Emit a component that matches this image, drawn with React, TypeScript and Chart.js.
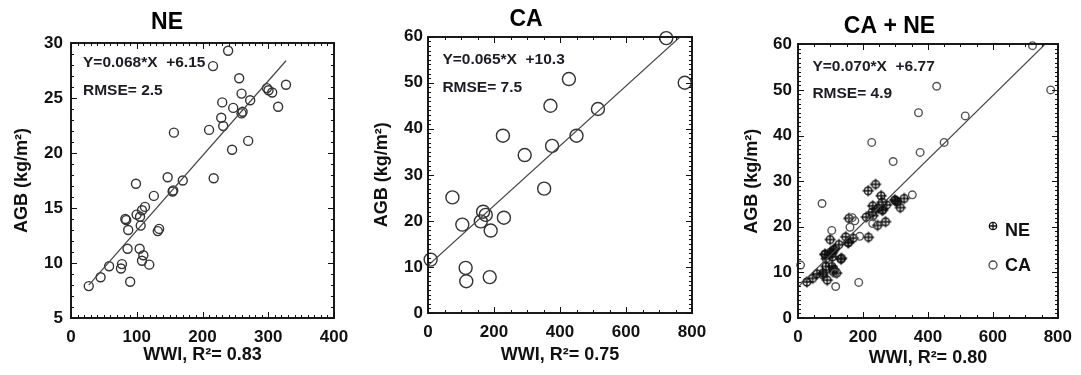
import React, { useEffect, useRef, useState } from 'react';
import { Chart, registerables } from 'chart.js';

Chart.register(...registerables);

// ---------------- data ----------------
const NE_WWI = [27, 45, 58, 77.5, 76, 90, 82.6, 84, 86, 87, 98.8, 99.8, 105, 104.4, 106, 110, 108, 108, 112.5, 119, 126, 132, 134, 147, 155.5, 154.5, 156.5, 170, 210, 217, 216, 239, 230, 228.5, 231.5, 245, 246.7, 255.8, 259.4, 259.4, 261, 269.5, 272.5, 298, 300.4, 306, 315, 327];
const NE_AGB = [7.9, 8.7, 9.7, 9.9, 9.5, 8.3, 14.0, 13.9, 11.3, 13.0, 17.2, 14.4, 14.2, 11.3, 13.4, 10.7, 10.2, 14.8, 15.1, 9.85, 16.1, 12.9, 13.1, 17.8, 16.6, 16.5, 21.85, 17.5, 22.1, 17.7, 27.9, 29.3, 24.6, 23.2, 22.45, 20.3, 24.1, 26.8, 25.4, 23.6, 23.75, 21.1, 24.8, 25.9, 25.7, 25.5, 24.2, 26.2];

const CA_WWI = [8, 74, 104, 114, 116, 160, 167, 175, 190, 187, 230, 227, 293, 352, 371, 376, 427, 450, 515, 722, 778];
const CA_AGB = [11.6, 25.1, 19.2, 9.8, 6.9, 19.9, 22.0, 21.3, 17.9, 7.8, 20.7, 38.5, 34.3, 27.0, 45.0, 36.3, 50.8, 38.5, 44.3, 59.7, 50.0];

// fit results: [slope, intercept, RMSE, R2]
const NE_FIT = [0.068, 6.15, 2.5, 0.83];
const CA_FIT = [0.065, 10.3, 7.5, 0.75];
const ALL_FIT = [0.070, 6.77, 4.9, 0.80];

// tick labels
const X_TICKS_NE = [0, 100, 200, 300, 400];
const Y_TICKS_NE = [5, 10, 15, 20, 25, 30];
const X_TICKS_CA = [0, 200, 400, 600, 800];
const Y_TICKS_CA = [0, 10, 20, 30, 40, 50, 60];

const TITLES = ['NE', 'CA', 'CA + NE'];
const LEGEND_LABELS = ['NE', 'CA'];

// ---------------- helpers ----------------
const FONT = "'Liberation Sans', Arial, Helvetica, sans-serif";
const INK = '#111';

function pts(xs: number[], ys: number[]) {
  return xs.map((x, i) => ({ x, y: ys[i] }));
}

function fitLine(fit: number[], x0: number, x1: number) {
  return [
    { x: x0, y: fit[0] * x0 + fit[1] },
    { x: x1, y: fit[0] * x1 + fit[1] },
  ];
}

function drawPlusCircle(g: CanvasRenderingContext2D, cx: number, cy: number, r: number, arm: number, color: string, lw: number) {
  g.save();
  g.strokeStyle = color;
  g.lineWidth = lw;
  g.beginPath();
  g.arc(cx, cy, r, 0, Math.PI * 2);
  g.stroke();
  g.beginPath();
  g.moveTo(cx - arm, cy);
  g.lineTo(cx + arm, cy);
  g.moveTo(cx, cy - arm);
  g.lineTo(cx, cy + arm);
  g.stroke();
  g.restore();
}

function makePlusCircle(r: number, arm: number, color: string, lw: number) {
  const size = Math.ceil(2 * Math.max(r, arm) + lw * 2 + 2);
  const c = document.createElement('canvas');
  c.width = size;
  c.height = size;
  const g = c.getContext('2d')!;
  drawPlusCircle(g, size / 2, size / 2, r, arm, color, lw);
  return c;
}

function drawTexts(chart: any, p: any) {
  const ctx = chart.ctx;
  const a = chart.chartArea;
  ctx.save();
  ctx.fillStyle = '#1c1c24';
  ctx.textBaseline = 'middle';
  ctx.textAlign = 'left';
  ctx.font = `bold 15.5px ${FONT}`;
  const fit = p.fit;
  ctx.fillText(`Y=${fit[0].toFixed(3)}*X  +${fit[1]}`, a.left + p.annot[0], a.top + p.annot[1]);
  ctx.fillText(`RMSE= ${fit[2]}`, a.left + p.annot[0], a.top + p.annot[2]);
  if (p.legend) {
    const lg = p.legend;
    ctx.font = `bold 18px ${FONT}`;
    ctx.fillStyle = INK;
    drawPlusCircle(ctx, a.left + lg.sx, a.top + lg.y1, 3.7, 3.7, '#111', 1.3);
    ctx.fillText(LEGEND_LABELS[0], a.left + lg.tx, a.top + lg.y1 + 5.5);
    ctx.strokeStyle = '#444';
    ctx.lineWidth = 1.3;
    ctx.beginPath();
    ctx.arc(a.left + lg.sx, a.top + lg.y2, 4, 0, Math.PI * 2);
    ctx.stroke();
    ctx.fillText(LEGEND_LABELS[1], a.left + lg.tx, a.top + lg.y2 + 1.5);
  }
  ctx.restore();
}

function scatterDs(data: any[], radius: number, color: string, style: any = 'circle') {
  return {
    type: 'scatter',
    data,
    pointStyle: style,
    pointRadius: radius,
    pointBorderColor: color,
    pointBackgroundColor: 'rgba(0,0,0,0)',
    pointBorderWidth: 1.4,
    showLine: false,
    clip: false,
  };
}

function lineDs(data: any[]) {
  return {
    type: 'line',
    data,
    borderColor: '#444',
    borderWidth: 1.2,
    pointRadius: 0,
    fill: false,
    tension: 0,
  };
}

function makeConfig(p: any) {
  const xt = p.xTicks;
  const yt = p.yTicks;
  return {
    type: 'scatter',
    data: { datasets: p.datasets },
    plugins: [
      {
        id: 'overlay',
        afterDraw(c: any) {
          drawTexts(c, p);
        },
      },
    ],
    options: {
      responsive: false,
      animation: false,
      events: [],
      layout: { padding: { left: 0, right: p.rightPad, top: 0, bottom: 0 } },
      plugins: {
        legend: { display: false },
        tooltip: { enabled: false },
        title: {
          display: true,
          text: p.title,
          color: '#000',
          font: { family: FONT, size: 23, weight: 'bold' },
          padding: { top: p.titlePad[0], bottom: p.titlePad[1] },
        },
      },
      scales: {
        x: {
          type: 'linear',
          min: xt[0],
          max: xt[xt.length - 1],
          grid: { display: false, drawTicks: false },
          border: { display: false },
          ticks: {
            stepSize: xt[1] - xt[0],
            autoSkip: false,
            maxRotation: 0,
            padding: 9,
            color: INK,
            font: { family: FONT, size: 17, weight: 'bold' },
          },
          title: {
            display: true,
            text: `WWI, R\u00B2= ${p.fit[3].toFixed(2)}`,
            color: INK,
            font: { family: FONT, size: 18, weight: 'bold' },
            padding: { top: 0, bottom: p.xTitlePad },
          },
          afterFit: (s: any) => {
            s.height = p.xScaleH;
          },
        },
        y: {
          type: 'linear',
          min: yt[0],
          max: yt[yt.length - 1],
          grid: { display: false, drawTicks: false },
          border: { display: false },
          ticks: {
            stepSize: yt[1] - yt[0],
            autoSkip: false,
            padding: p.yTickPad,
            color: INK,
            font: { family: FONT, size: 17, weight: 'bold' },
          },
          title: {
            display: true,
            text: 'AGB (kg/m\u00B2)',
            color: INK,
            font: { family: FONT, size: 18, weight: 'bold' },
            padding: { top: p.yTitlePad, bottom: 0 },
          },
          afterFit: (s: any) => {
            s.width = p.yScaleW;
          },
        },
      },
    },
  };
}

// frame + inward tick marks, positioned from each chart's own scales
function frameInfo(chart: any, offsetLeft: number, xt: number[], yt: number[], xMinor: number, yMinor: number) {
  const a = chart.chartArea;
  const xs = chart.scales.x;
  const ys = chart.scales.y;
  const xMaj = xt[1] - xt[0];
  const yMaj = yt[1] - yt[0];
  const xTicks: any[] = [];
  const yTicks: any[] = [];
  const nx = Math.round((xt[xt.length - 1] - xt[0]) / xMinor);
  for (let i = 0; i <= nx; i++) {
    const v = xt[0] + i * xMinor;
    const q = (v - xt[0]) / xMaj;
    xTicks.push({ p: xs.getPixelForValue(v), major: Math.abs(q - Math.round(q)) < 1e-6 });
  }
  const ny = Math.round((yt[yt.length - 1] - yt[0]) / yMinor);
  for (let i = 0; i <= ny; i++) {
    const v = yt[0] + i * yMinor;
    const q = (v - yt[0]) / yMaj;
    yTicks.push({ p: ys.getPixelForValue(v), major: Math.abs(q - Math.round(q)) < 1e-6 });
  }
  return { off: offsetLeft, left: a.left, right: a.right, top: a.top, bottom: a.bottom, xTicks, yTicks };
}

const PANEL_LEFT = [0, 360, 720];
const PANEL_W = [360, 360, 361];

export default function App() {
  const r1 = useRef<HTMLCanvasElement | null>(null);
  const r2 = useRef<HTMLCanvasElement | null>(null);
  const r3 = useRef<HTMLCanvasElement | null>(null);
  const [frames, setFrames] = useState<any[]>([]);

  useEffect(() => {
    const specs = [
      {
        title: TITLES[0], xTicks: X_TICKS_NE, yTicks: Y_TICKS_NE, xMinor: 10, yMinor: 1, fit: NE_FIT,
        rightPad: 26, yScaleW: 71, xScaleH: 57, titlePad: [9.2, 6.2], xTitlePad: 9.2, yTitlePad: 11.2, yTickPad: 8,
        annot: [12, 20, 47.7],
        datasets: [
          lineDs(fitLine(NE_FIT, Math.min(...NE_WWI), Math.max(...NE_WWI))),
          scatterDs(pts(NE_WWI, NE_AGB), 4.5, '#333'),
        ],
      },
      {
        title: TITLES[1], xTicks: X_TICKS_CA, yTicks: Y_TICKS_CA, xMinor: 50, yMinor: 1, fit: CA_FIT,
        rightPad: 28, yScaleW: 68, xScaleH: 62, titlePad: [5.5, 3.6], xTitlePad: 9.2, yTitlePad: 11.2, yTickPad: 5,
        annot: [14.4, 22.6, 51],
        datasets: [
          lineDs(fitLine(CA_FIT, X_TICKS_CA[0], X_TICKS_CA[X_TICKS_CA.length - 1])),
          scatterDs(pts(CA_WWI, CA_AGB), 6.5, '#333'),
        ],
      },
      {
        title: TITLES[2], xTicks: X_TICKS_CA, yTicks: Y_TICKS_CA, xMinor: 50, yMinor: 1, fit: ALL_FIT,
        rightPad: 22, yScaleW: 78, xScaleH: 57, titlePad: [13.2, 3.5], xTitlePad: 6.2, yTitlePad: 21.2, yTickPad: 6,
        annot: [14.4, 22.4, 49.7],
        legend: { sx: 195, tx: 207, y1: 181.7, y2: 220.7 },
        datasets: [
          lineDs(fitLine(ALL_FIT, X_TICKS_CA[0], X_TICKS_CA[X_TICKS_CA.length - 1])),
          scatterDs(pts(CA_WWI, CA_AGB), 3.8, '#555'),
          scatterDs(pts(NE_WWI, NE_AGB), 4, '#111', makePlusCircle(3.8, 5.5, '#111', 1.4)),
        ],
      },
    ];
    const refs = [r1, r2, r3];
    const charts = specs.map((s, i) => new Chart(refs[i].current!, makeConfig(s) as any));
    setFrames(charts.map((c, i) => frameInfo(c, PANEL_LEFT[i], specs[i].xTicks, specs[i].yTicks, specs[i].xMinor, specs[i].yMinor)));
    return () => charts.forEach((c) => c.destroy());
  }, []);

  const marks: any[] = [];
  frames.forEach((f, k) => {
    const L = f.off;
    marks.push(
      <div
        key={`box${k}`}
        style={{
          position: 'absolute',
          left: L + f.left - 1,
          top: f.top - 1,
          width: f.right - f.left + 2,
          height: f.bottom - f.top + 2,
          border: '2px solid #1a1a1a',
          boxSizing: 'border-box',
          pointerEvents: 'none',
        }}
      />
    );
    f.xTicks.forEach((t: any, i: number) => {
      const len = t.major ? 6 : 3;
      marks.push(
        <div key={`xb${k}-${i}`} style={{ position: 'absolute', left: L + Math.round(t.p) - 0.5, top: f.bottom - len, width: 1.2, height: len, background: INK }} />,
        <div key={`xt${k}-${i}`} style={{ position: 'absolute', left: L + Math.round(t.p) - 0.5, top: f.top, width: 1.2, height: len, background: INK }} />
      );
    });
    f.yTicks.forEach((t: any, i: number) => {
      const len = t.major ? 6 : 3;
      marks.push(
        <div key={`yl${k}-${i}`} style={{ position: 'absolute', left: L + f.left, top: Math.round(t.p) - 0.5, width: len, height: 1.2, background: INK }} />,
        <div key={`yr${k}-${i}`} style={{ position: 'absolute', left: L + f.right - len, top: Math.round(t.p) - 0.5, width: len, height: 1.2, background: INK }} />
      );
    });
  });

  return (
    <div style={{ position: 'absolute', left: 0, top: 0, width: 1081, height: 375 }}>
      <canvas ref={r1} width={PANEL_W[0]} height={375} style={{ position: 'absolute', left: PANEL_LEFT[0], top: 0, width: PANEL_W[0], height: 375 }} />
      <canvas ref={r2} width={PANEL_W[1]} height={375} style={{ position: 'absolute', left: PANEL_LEFT[1], top: 0, width: PANEL_W[1], height: 375 }} />
      <canvas ref={r3} width={PANEL_W[2]} height={375} style={{ position: 'absolute', left: PANEL_LEFT[2], top: 0, width: PANEL_W[2], height: 375 }} />
      {marks}
    </div>
  );
}
